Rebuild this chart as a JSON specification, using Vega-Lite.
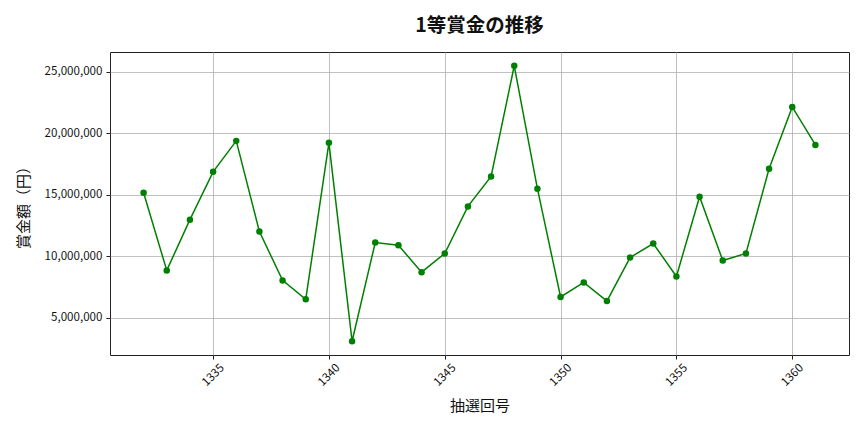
{
  "$schema": "https://vega.github.io/schema/vega-lite/v6.json",
  "autosize": "none",
  "padding": {"left": 110, "top": 52, "right": 15, "bottom": 77},
  "width": 739,
  "height": 303,
  "background": "white",
  "config": {
    "font": "Noto Sans CJK JP",
    "view": {"stroke": "#222222", "strokeWidth": 1},
    "axis": {
      "labelFont": "Noto Sans CJK JP",
      "titleFont": "Noto Sans CJK JP",
      "labelColor": "#111111",
      "titleColor": "#111111",
      "labelFontSize": 11.6,
      "titleFontSize": 15,
      "titleFontWeight": "normal",
      "gridColor": "#b0b0b0",
      "gridWidth": 0.8,
      "tickColor": "#222222",
      "tickSize": 4,
      "labelPadding": 4,
      "domain": false
    }
  },
  "title": {
    "text": "1等賞金の推移",
    "font": "Noto Sans CJK JP",
    "fontSize": 19.5,
    "fontWeight": "bold",
    "color": "#111111",
    "offset": 16
  },
  "data": {
    "values": [
      {"round": 1332, "amount": 15160000},
      {"round": 1333, "amount": 8840000},
      {"round": 1334, "amount": 12970000},
      {"round": 1335, "amount": 16860000},
      {"round": 1336, "amount": 19380000},
      {"round": 1337, "amount": 12000000},
      {"round": 1338, "amount": 8030000},
      {"round": 1339, "amount": 6490000},
      {"round": 1340, "amount": 19220000},
      {"round": 1341, "amount": 3080000},
      {"round": 1342, "amount": 11110000},
      {"round": 1343, "amount": 10890000},
      {"round": 1344, "amount": 8700000},
      {"round": 1345, "amount": 10220000},
      {"round": 1346, "amount": 14050000},
      {"round": 1347, "amount": 16490000},
      {"round": 1348, "amount": 25490000},
      {"round": 1349, "amount": 15490000},
      {"round": 1350, "amount": 6680000},
      {"round": 1351, "amount": 7860000},
      {"round": 1352, "amount": 6350000},
      {"round": 1353, "amount": 9890000},
      {"round": 1354, "amount": 11030000},
      {"round": 1355, "amount": 8350000},
      {"round": 1356, "amount": 14840000},
      {"round": 1357, "amount": 9650000},
      {"round": 1358, "amount": 10220000},
      {"round": 1359, "amount": 17110000},
      {"round": 1360, "amount": 22140000},
      {"round": 1361, "amount": 19050000}
    ]
  },
  "mark": {
    "type": "line",
    "color": "#008000",
    "strokeWidth": 1.5,
    "point": {"filled": true, "color": "#008000", "size": 42, "opacity": 1}
  },
  "encoding": {
    "x": {
      "field": "round",
      "type": "quantitative",
      "title": "抽選回号",
      "scale": {"domain": [1330.55, 1362.45], "nice": false, "zero": false},
      "axis": {
        "values": [1335, 1340, 1345, 1350, 1355, 1360],
        "format": "d",
        "labelAngle": -45,
        "labelAlign": "center",
        "labelBaseline": "middle",
        "labelPadding": 16,
        "titlePadding": 10
      }
    },
    "y": {
      "field": "amount",
      "type": "quantitative",
      "title": "賞金額（円）",
      "scale": {"domain": [1960000, 26610000], "nice": false, "zero": false},
      "axis": {
        "values": [5000000, 10000000, 15000000, 20000000, 25000000],
        "format": ",d",
        "titlePadding": 13
      }
    }
  }
}
